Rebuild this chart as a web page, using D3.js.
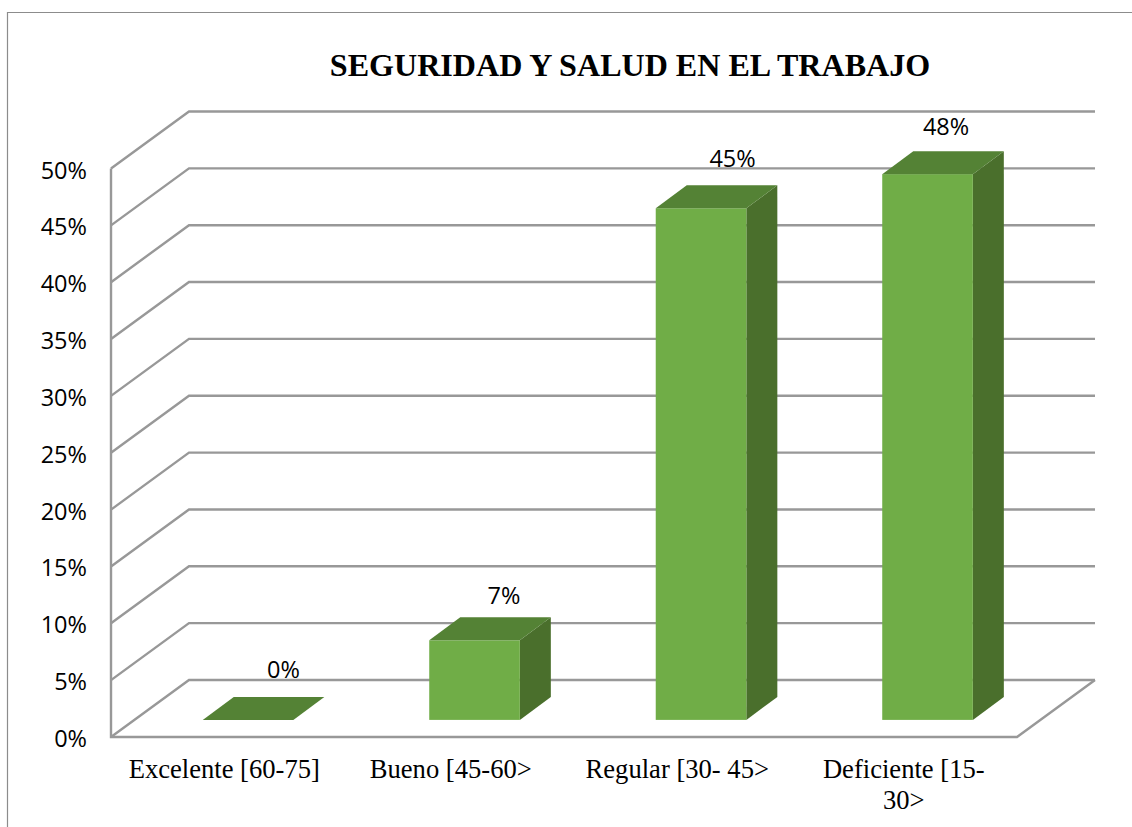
<!DOCTYPE html>
<html><head><meta charset="utf-8">
<script src="https://cdn.jsdelivr.net/npm/d3@7/dist/d3.min.js"></script>
<style>html,body{margin:0;padding:0;background:#fff;overflow:hidden}svg{display:block}</style>
</head><body><svg id="c" width="1132" height="827"></svg>
<script>
const categories = ["Excelente [60-75]", "Bueno [45-60>", "Regular [30- 45>", "Deficiente [15-\n30>"];
const values = [0, 7, 45, 48];
const valueLabels = ["0%", "7%", "45%", "48%"];
const yTicks = [0, 5, 10, 15, 20, 25, 30, 35, 40, 45, 50];
const title = "SEGURIDAD Y SALUD EN EL TRABAJO";

const W = 1132, H = 827;
const left = 111, right = 1017, floorY = 737, topY = 168.5;
const wallDx = 78, wallDy = 57;           // depth of the chart box
const barInset = 0.305;                   // bars stand about 30% into the box
const barDx = 31, barDy = 23;             // depth of each bar
const labelNudge = [20, 14, 16, 3], labelRise = [19, 13, 18, 16];
const C = {front: "#70AD47", top: "#548235", side: "#4A6F2C", grid: "#989898", frame: "#8c8c8c"};
const sans = "'Open Sans','Noto Sans',sans-serif", serif = "'Liberation Serif',serif";

const svg = d3.select("#c");
const x = d3.scaleBand().domain(categories).range([left, right]).paddingInner(0.6).paddingOuter(0.3);
const y = d3.scaleLinear().domain([0, 50]).range([floorY, topY]);
const line = d3.line();

svg.append("path").attr("d", line([[7.5, H], [7.5, 12.5], [W, 12.5]]))
  .attr("fill", "none").attr("stroke", C.frame).attr("stroke-width", 1.2);

svg.append("text").attr("x", 630).attr("y", 76).attr("text-anchor", "middle")
  .attr("font-family", serif).attr("font-weight", 700).attr("font-size", 32.1).attr("fill", "#000").text(title);

const grid = svg.append("g").attr("fill", "none").attr("stroke", C.grid).attr("stroke-width", 2.4);
grid.selectAll("path.g").data(yTicks).join("path").attr("class", "g")
  .attr("d", t => line([[left, y(t)], [left + wallDx, y(t) - wallDy], [right + wallDx, y(t) - wallDy]]));
grid.append("path").attr("d", line([[left, y(50)], [left, floorY], [right, floorY], [right + wallDx, floorY - wallDy]]));

const yAxis = svg.append("g").attr("transform", "translate(" + left + ",2)")
  .call(d3.axisLeft(y).tickValues(yTicks).tickSize(0).tickPadding(24).tickFormat(d => d + "%"));
yAxis.select(".domain").remove();
yAxis.selectAll("text").attr("font-family", sans).attr("font-size", 23.5).attr("fill", "#000");

const xAxis = svg.append("g").attr("transform", "translate(0," + floorY + ")")
  .call(d3.axisBottom(x).tickSize(0).tickPadding(0).tickFormat(""));
xAxis.select(".domain").remove();
xAxis.selectAll(".tick text").each(function (d) {
  const t = d3.select(this).attr("font-family", serif).attr("font-size", 26.6).attr("fill", "#000").attr("y", 0).attr("dy", null);
  d.split("\n").forEach((s, i) => t.append("tspan").attr("x", 0).attr("y", 41 + i * 31).text(s));
});

const bx = d => x(d) + wallDx * barInset;
const by = v => y(v) - 57 * 0.3;
const bars = svg.append("g").selectAll("g").data(categories.map((c, i) => ({c, v: values[i], l: valueLabels[i], i}))).join("g");
const byy = v => y(v) - wallDy * 0.3;
bars.append("path").attr("fill", C.side).attr("d", d => {
  const r = bx(d.c) + x.bandwidth();
  return line([[r, byy(d.v)], [r + barDx, byy(d.v) - barDy], [r + barDx, byy(0) - barDy], [r, byy(0)]]) + "Z";
});
bars.append("rect").attr("fill", C.front).attr("x", d => bx(d.c)).attr("y", d => byy(d.v))
  .attr("width", x.bandwidth()).attr("height", d => byy(0) - byy(d.v));
bars.append("path").attr("fill", C.top).attr("d", d => {
  const l = bx(d.c), r = l + x.bandwidth(), t = byy(d.v);
  return line([[l, t], [l + barDx, t - barDy], [r + barDx, t - barDy], [r, t]]) + "Z";
});
bars.append("text").attr("text-anchor", "middle")
  .attr("x", d => bx(d.c) + x.bandwidth() / 2 + barDx / 2 + labelNudge[d.i])
  .attr("y", d => byy(d.v) - barDy - labelRise[d.i])
  .attr("font-family", sans).attr("font-size", 23.5).attr("fill", "#000").text(d => d.l);
</script></body></html>
